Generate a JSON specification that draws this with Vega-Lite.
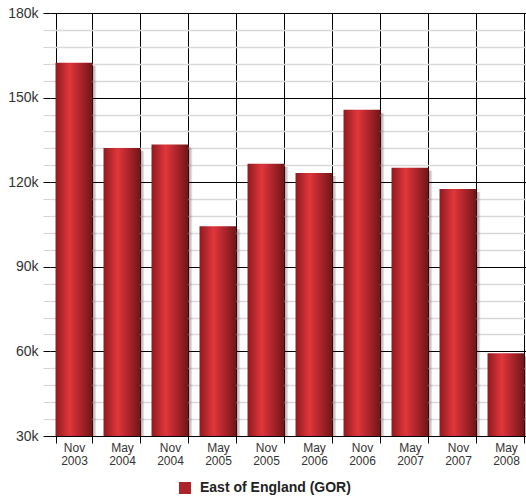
{
  "$schema": "https://vega.github.io/schema/vega-lite/v6.json",
  "autosize": {"type": "none"},
  "padding": {"left": 50, "top": 13, "right": 0, "bottom": 63},
  "width": 476,
  "height": 423,
  "background": "white",
  "config": {
    "view": {"stroke": null},
    "font": "Liberation Sans"
  },
  "data": {
    "values": [
      {"period": "Nov 2003", "count": 162400, "series": "East of England (GOR)"},
      {"period": "May 2004", "count": 132100, "series": "East of England (GOR)"},
      {"period": "Nov 2004", "count": 133400, "series": "East of England (GOR)"},
      {"period": "May 2005", "count": 104400, "series": "East of England (GOR)"},
      {"period": "Nov 2005", "count": 126500, "series": "East of England (GOR)"},
      {"period": "May 2006", "count": 123300, "series": "East of England (GOR)"},
      {"period": "Nov 2006", "count": 145700, "series": "East of England (GOR)"},
      {"period": "May 2007", "count": 125100, "series": "East of England (GOR)"},
      {"period": "Nov 2007", "count": 117600, "series": "East of England (GOR)"},
      {"period": "May 2008", "count": 59300, "series": "East of England (GOR)"}
    ]
  },
  "encoding": {
    "x": {
      "field": "period",
      "type": "ordinal",
      "sort": null,
      "scale": {"range": [0, 480], "paddingInner": 0.23, "paddingOuter": 0.115},
      "axis": {
        "title": null,
        "labelAngle": 0,
        "labelExpr": "split(datum.label, ' ')",
        "labelFont": "Liberation Sans",
        "labelFontSize": 12,
        "labelColor": "#333333",
        "labelLineHeight": 13,
        "labelPadding": -1,
        "tickBand": "extent",
        "tickSize": 7,
        "tickColor": "#000000",
        "tickWidth": 1,
        "domain": true,
        "domainColor": "#000000",
        "grid": true,
        "gridColor": "#000000",
        "gridWidth": 1,
        "gridOpacity": 1
      }
    },
    "y": {
      "field": "count",
      "type": "quantitative",
      "scale": {"domain": [30000, 180000], "nice": false, "zero": false},
      "axis": {
        "title": null,
        "values": [30000, 36000, 42000, 48000, 54000, 60000, 66000, 72000, 78000, 84000, 90000, 96000, 102000, 108000, 114000, 120000, 126000, 132000, 138000, 144000, 150000, 156000, 162000, 168000, 174000, 180000],
        "labelExpr": "datum.value % 30000 === 0 ? (datum.value / 1000) + 'k' : ''",
        "labelFont": "Liberation Sans",
        "labelFontSize": 14,
        "labelColor": "#333333",
        "labelPadding": 5,
        "tickSize": 7,
        "tickColor": {"condition": {"test": "datum.value % 30000 === 0", "value": "#000000"}, "value": "#d4d4d4"},
        "domain": false,
        "grid": true,
        "gridColor": {"condition": {"test": "datum.value % 30000 === 0", "value": "#000000"}, "value": "#d9d9d9"},
        "gridWidth": {"condition": {"test": "datum.value % 30000 === 0", "value": 1.2}, "value": 1.5},
        "gridOpacity": 1
      }
    }
  },
  "layer": [
    {
      "mark": {
        "type": "bar",
        "clip": true,
        "xOffset": 4,
        "yOffset": 3,
        "fill": {
          "gradient": "linear",
          "x1": 0, "y1": 0, "x2": 1, "y2": 0,
          "stops": [
            {"offset": 0, "color": "rgba(0,0,0,0)"},
            {"offset": 0.82, "color": "rgba(0,0,0,0.05)"},
            {"offset": 0.9, "color": "rgba(0,0,0,0.35)"},
            {"offset": 1, "color": "rgba(0,0,0,0.05)"}
          ]
        }
      }
    },
    {
      "mark": {
        "type": "bar",
        "clip": true,
        "fill": {
          "gradient": "linear",
          "x1": 0, "y1": 0, "x2": 1, "y2": 0,
          "stops": [
            {"offset": 0, "color": "#8e1b20"},
            {"offset": 0.38, "color": "#e0363c"},
            {"offset": 0.7, "color": "#a8242a"},
            {"offset": 1, "color": "#6e1619"}
          ]
        }
      }
    },
    {
      "mark": {"type": "square", "opacity": 0, "size": 10},
      "encoding": {
        "fill": {
          "field": "series",
          "type": "nominal",
          "scale": {"range": ["#ad2329"]},
          "legend": {
            "title": null,
            "orient": "none",
            "legendX": 128,
            "legendY": 468,
            "direction": "horizontal",
            "padding": 0,
            "symbolType": "square",
            "symbolSize": 144,
            "symbolOpacity": 1,
            "symbolStrokeWidth": 0,
            "labelOffset": 8,
            "labelFont": "Liberation Sans",
            "labelFontSize": 14,
            "labelFontWeight": "bold",
            "labelColor": "#222222",
            "labelLimit": 300
          }
        }
      }
    }
  ]
}
